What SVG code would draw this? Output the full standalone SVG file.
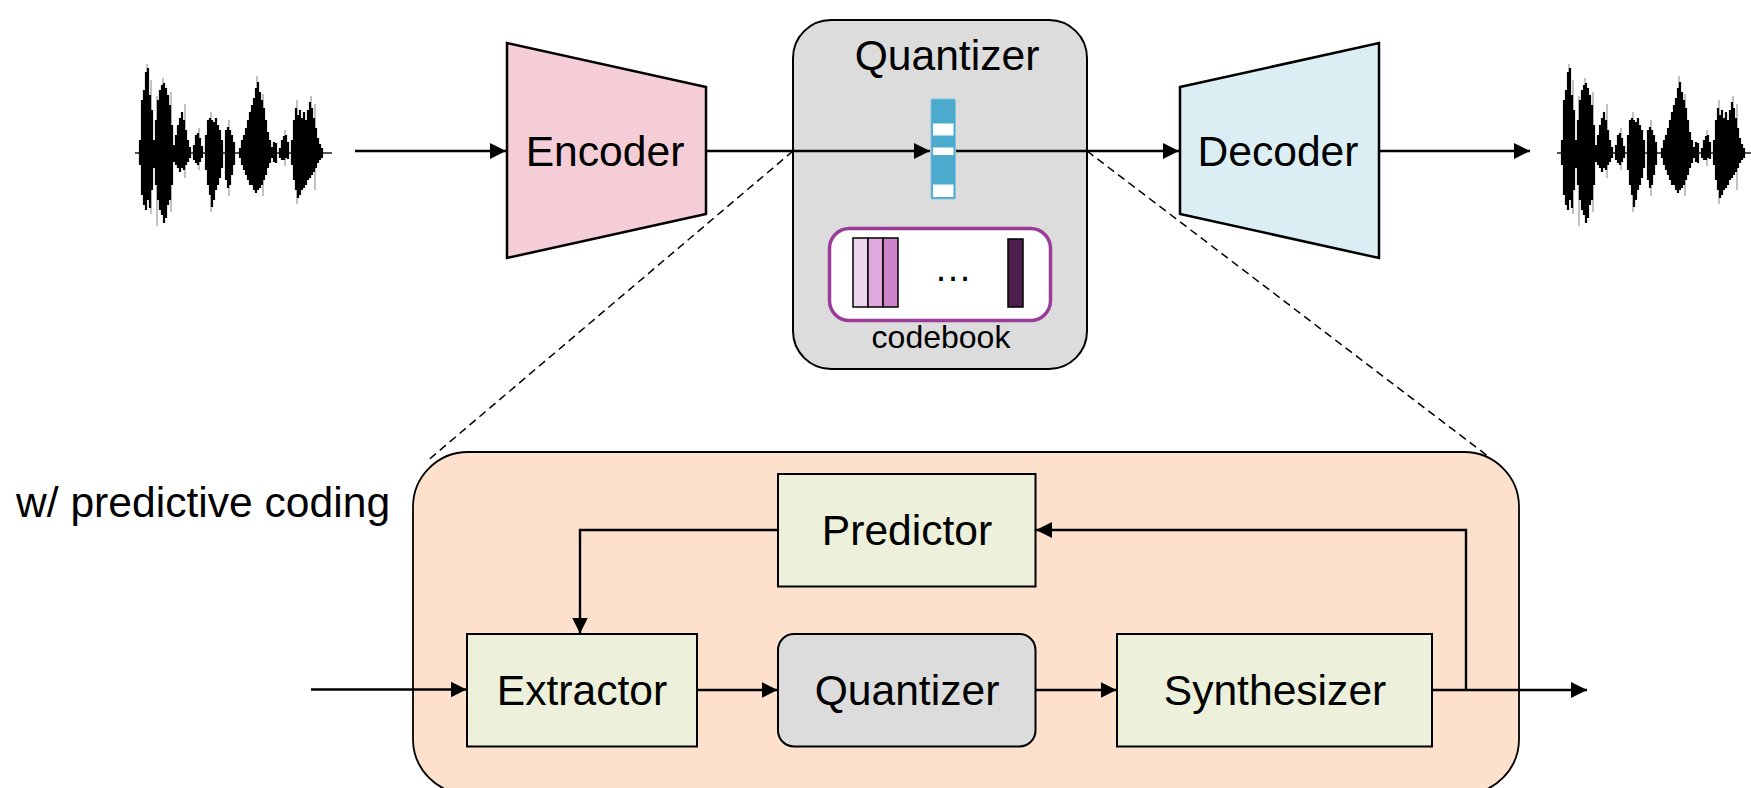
<svg xmlns="http://www.w3.org/2000/svg" xmlns:xlink="http://www.w3.org/1999/xlink" width="1751" height="788" viewBox="0 0 1751 788">
  <style>
    .lbl { font-family: "Liberation Sans", Arial, sans-serif; font-size: 42.6px; fill: #000; text-anchor: middle; }
    .small { font-size: 32px; }
    .edge { fill: none; stroke: #000; stroke-width: 2.4; }
    .dash { fill: none; stroke: #000; stroke-width: 1.5; stroke-dasharray: 8 5; }
    .green { fill: #edf0da; stroke: #000; stroke-width: 2; }
    .grey { fill: #dcdcdc; stroke: #000; stroke-width: 2; }
  </style>
  <defs>
    <marker id="arr" markerUnits="userSpaceOnUse" markerWidth="16" markerHeight="16" refX="16" refY="8" orient="auto">
      <path d="M0,0 L16,8 L0,16 z" fill="#000"/>
    </marker>
    <filter id="soft" x="-5%" y="-5%" width="110%" height="110%">
      <feGaussianBlur stdDeviation="0.6"/>
    </filter>
    <!-- speech waveform, drawn once and reused -->
    <g id="wave" filter="url(#soft)">
      <path d="M135 153H332" stroke="#555" stroke-width="2"/>
      <path stroke="#999" stroke-width="1.2" d="M147 64V96 M151 80V214 M157 96V226 M163 78V120 M171 92V212 M185 104V178 M199 128V170 M211 112V212 M229 120V196 M257 76V118 M263 94V196 M297 100V204 M311 96V120 M315 104V190 M285 130V166"/>
      <path stroke="#000" stroke-width="2.2" d="M140 140V165 M142 100V195 M144 90V205 M146 72V210 M148 68V200 M150 95V208 M152 110V190 M154 140V168 M156 120V185 M158 100V200 M160 90V210 M162 85V215 M164 83V223 M166 88V218 M168 95V205 M170 105V200 M172 125V185 M174 145V162 M176 135V165 M178 125V168 M180 118V172 M182 112V168 M184 120V170 M186 130V165 M188 140V162 M190 147V158 M194 145V160 M196 135V163 M198 133V165 M200 138V162 M202 146V158 M206 135V170 M208 120V185 M210 118V195 M212 120V207 M214 122V200 M216 118V190 M218 125V185 M220 130V178 M222 140V168 M226 130V180 M228 127V188 M230 130V185 M232 135V175 M234 142V165 M240 148V158 M242 140V165 M244 135V170 M246 128V175 M248 120V180 M250 112V185 M252 105V185 M254 98V190 M256 88V193 M258 82V190 M260 92V188 M262 100V185 M264 108V180 M266 120V175 M268 132V168 M270 140V163 M272 147V158 M274 142V162 M276 143V163 M280 148V158 M282 140V160 M284 136V160 M286 135V158 M288 142V159 M292 140V165 M294 120V180 M296 108V190 M298 115V198 M300 110V195 M302 118V190 M304 112V188 M306 120V185 M308 110V180 M310 102V178 M312 108V175 M314 118V172 M316 128V168 M318 138V163 M320 144V160 M322 148V158"/>
    </g>
  </defs>

  <rect width="1751" height="788" fill="#fff"/>

  <!-- audio in / out -->
  <g id="wave-in"><use xlink:href="#wave" href="#wave"/></g>
  <g id="wave-out"><use xlink:href="#wave" href="#wave" transform="translate(1422,0)"/></g>

  <!-- top codec -->
  <g id="encoder">
    <polygon points="507,43 706,87 706,214 507,258" fill="#f5cdd7" stroke="#000" stroke-width="2.5"/>
    <text class="lbl" x="605" y="166">Encoder</text>
  </g>

  <g id="quantizer">
    <rect x="793" y="20" width="294" height="349" rx="38" fill="#dcdcdc" stroke="#000" stroke-width="2"/>
    <text class="lbl" x="947" y="70">Quantizer</text>
    <g id="vector">
      <rect x="931" y="99" width="24.5" height="100" rx="1.5" fill="#4baacd" stroke="#7cc3dd" stroke-width="1"/>
      <rect x="933" y="123.5" width="20.5" height="12" fill="#fff"/>
      <rect x="933" y="147.5" width="20.5" height="7.5" fill="#fff"/>
      <rect x="933" y="184.5" width="20.5" height="12.5" fill="#fff"/>
    </g>
    <g id="codebook">
      <rect x="829.5" y="228.5" width="221" height="92" rx="20" fill="#fff" stroke="#993d99" stroke-width="3.5"/>
      <rect x="853" y="238" width="15" height="69" fill="#efd4ee" stroke="#000" stroke-width="1.5"/>
      <rect x="868" y="238" width="15" height="69" fill="#deaadc" stroke="#000" stroke-width="1.5"/>
      <rect x="883" y="238" width="15" height="69" fill="#cc85c8" stroke="#000" stroke-width="1.5"/>
      <rect x="1008" y="239" width="15" height="68" fill="#4c1f4c" stroke="#000" stroke-width="1.5"/>
      <text class="lbl" x="953" y="281" style="font-size:38px">…</text>
      <text class="lbl small" x="941" y="348">codebook</text>
    </g>
  </g>

  <g id="decoder">
    <polygon points="1180,87 1379,43 1379,258 1180,214" fill="#dbeef4" stroke="#000" stroke-width="2.5"/>
    <text class="lbl" x="1278" y="166">Decoder</text>
  </g>

  <!-- predictive coding detail -->
  <text class="lbl" x="16" y="517" style="text-anchor:start">w/ predictive coding</text>
  <g id="predictive-block">
    <rect x="413" y="452" width="1106" height="342" rx="55" fill="#fde1cc" stroke="#000" stroke-width="1.8"/>
  </g>
  <g id="predictor">
    <rect class="green" x="778" y="474" width="257.5" height="112.5"/>
    <text class="lbl" x="907" y="545">Predictor</text>
  </g>
  <g id="extractor">
    <rect class="green" x="467" y="634" width="230" height="112.5"/>
    <text class="lbl" x="582" y="705">Extractor</text>
  </g>
  <g id="quantizer-2">
    <rect class="grey" x="778" y="634" width="257.5" height="112.5" rx="16"/>
    <text class="lbl" x="907" y="705">Quantizer</text>
  </g>
  <g id="synthesizer">
    <rect class="green" x="1117" y="634" width="315" height="112.5"/>
    <text class="lbl" x="1275" y="705">Synthesizer</text>
  </g>

  <!-- connectors -->
  <g id="connectors">
    <path class="dash" d="M793 151 L426 462"/>
    <path class="dash" d="M1087 151 L1489 457"/>
    <path class="edge" d="M355 151 H506" marker-end="url(#arr)"/>
    <path class="edge" d="M706 151 H930" marker-end="url(#arr)"/>
    <path class="edge" d="M956 151 H1179" marker-end="url(#arr)"/>
    <path class="edge" d="M1379 151 H1530" marker-end="url(#arr)"/>
    <path class="edge" d="M311 689.5 H466.5" marker-end="url(#arr)"/>
    <path class="edge" d="M697 690 H777.5" marker-end="url(#arr)"/>
    <path class="edge" d="M1035.5 690 H1116.5" marker-end="url(#arr)"/>
    <path class="edge" d="M1432 690 H1587" marker-end="url(#arr)"/>
    <path class="edge" d="M1466 690 V530 H1036" marker-end="url(#arr)"/>
    <path class="edge" d="M778 530 H580 V633.5" marker-end="url(#arr)"/>
  </g>
</svg>
